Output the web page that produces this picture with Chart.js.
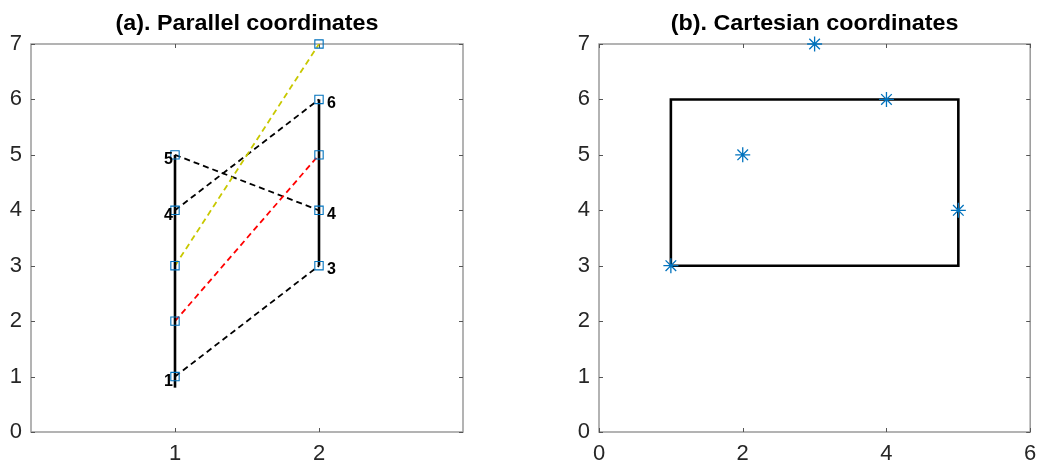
<!DOCTYPE html>
<html>
<head>
<meta charset="utf-8">
<script src="https://cdn.jsdelivr.net/npm/chart.js@4.4.1/dist/chart.umd.min.js"></script>
<style>
  html, body { margin: 0; padding: 0; background: #fff; }
  .panel { position: absolute; top: 0; width: 519px; height: 460px; }
  #panelA { left: 0; }
  #panelB { left: 520px; }
</style>
</head>
<body>
<div class="panel" id="panelA"><canvas id="parallelChart" width="519" height="460"></canvas></div>
<div class="panel" id="panelB"><canvas id="cartesianChart" width="519" height="460"></canvas></div>

<script>
// the five points, (pointX[i], pointY[i])
var pointX = [1, 2, 3, 4, 5];
var pointY = [3, 5, 7, 6, 4];

// rectangle: x from rectX[0] to rectX[1], y from rectY[0] to rectY[1]
var rectX = [1, 5];
var rectY = [3, 6];

// solid segments on the two parallel axes
var axis1Span = [0.8, 5];
var axis2Span = [3, 6];

// numbers written beside the parallel axes
var axis1Labels = [1, 4, 5];
var axis2Labels = [6, 4, 3];

// axes
var yRange = [0, 7];
var yTicks = [0, 1, 2, 3, 4, 5, 6, 7];
var parallelXRange = [0, 3];
var parallelXTicks = [1, 2];
var cartesianXRange = [0, 6];
var cartesianXTicks = [0, 2, 4, 6];

var titles = ['(a). Parallel coordinates', '(b). Cartesian coordinates'];

var lineColors = ['#000000', '#ff0000', '#c8c800', '#000000', '#000000'];
var markerBlue = '#0072bd';
var tickFont = { family: '"Liberation Sans", Arial, sans-serif', size: 22 };

// box, inward tick marks and title (matlab style)
function framePlugin(title) {
    return {
        id: 'frame',
        beforeDatasetsDraw: function(chart) {
            var ctx = chart.ctx;
            var a = chart.chartArea;
            var xs = chart.scales.x, ys = chart.scales.y;
            ctx.save();
            ctx.strokeStyle = '#9a9a9a';
            ctx.lineWidth = 1.5;
            ctx.strokeRect(a.left, a.top, a.right - a.left, a.bottom - a.top);
            ctx.strokeStyle = '#555555';
            ctx.lineWidth = 1;
            ctx.beginPath();
            xs.ticks.forEach(function(t) {
                var px = Math.round(xs.getPixelForValue(t.value)) + 0.5;
                ctx.moveTo(px, a.bottom); ctx.lineTo(px, a.bottom - 4);
                ctx.moveTo(px, a.top); ctx.lineTo(px, a.top + 4);
            });
            ys.ticks.forEach(function(t) {
                var py = Math.round(ys.getPixelForValue(t.value)) + 0.5;
                ctx.moveTo(a.left, py); ctx.lineTo(a.left + 4, py);
                ctx.moveTo(a.right, py); ctx.lineTo(a.right - 4, py);
            });
            ctx.stroke();
            ctx.restore();
        },
        afterDraw: function(chart) {
            var ctx = chart.ctx;
            var a = chart.chartArea;
            ctx.save();
            ctx.font = 'bold 22px "Liberation Sans", Arial, sans-serif';
            ctx.fillStyle = '#000000';
            ctx.textAlign = 'center';
            ctx.textBaseline = 'middle';
            ctx.translate((a.left + a.right) / 2, 24);
            ctx.scale(1.06, 1);
            ctx.fillText(title, 0, 0);
            ctx.restore();
        }
    };
}

function axes(xRange, xTicks, yWidth) {
    return {
        x: {
            type: 'linear',
            min: xRange[0],
            max: xRange[1],
            afterBuildTicks: function(scale) {
                scale.ticks = xTicks.map(function(v) { return { value: v }; });
            },
            afterFit: function(scale) {
                scale.height = 28;
                scale.paddingLeft = 0;
                scale.paddingRight = 0;
            },
            grid: { display: false, drawTicks: false },
            border: { display: false },
            ticks: { font: tickFont, color: '#262626', padding: 9, maxRotation: 0 }
        },
        y: {
            type: 'linear',
            min: yRange[0],
            max: yRange[1],
            afterBuildTicks: function(scale) {
                scale.ticks = yTicks.map(function(v) { return { value: v }; });
            },
            afterFit: function(scale) {
                scale.width = yWidth;
                scale.paddingTop = 0;
                scale.paddingBottom = 0;
            },
            grid: { display: false, drawTicks: false },
            border: { display: false },
            ticks: { font: tickFont, color: '#262626', padding: 9 }
        }
    };
}

var commonOptions = {
    responsive: false,
    animation: false,
    events: [],
    plugins: { legend: { display: false }, title: { display: false }, tooltip: { enabled: false } }
};

// ---- (a) parallel coordinates ----
var parallelSets = [];
pointX.forEach(function(v, i) {
    parallelSets.push({
        data: [{ x: 1, y: v }, { x: 2, y: pointY[i] }],
        showLine: true,
        borderColor: lineColors[i],
        borderWidth: 1.8,
        borderDash: [6, 4],
        pointRadius: 0,
        order: 3
    });
});
parallelSets.push({
    data: [{ x: 1, y: axis1Span[0] }, { x: 1, y: axis1Span[1] }],
    showLine: true, borderColor: '#000000', borderWidth: 2.6, pointRadius: 0, order: 2
});
parallelSets.push({
    data: [{ x: 2, y: axis2Span[0] }, { x: 2, y: axis2Span[1] }],
    showLine: true, borderColor: '#000000', borderWidth: 2.6, pointRadius: 0, order: 2
});
parallelSets.push({
    data: pointX.map(function(v) { return { x: 1, y: v }; })
        .concat(pointY.map(function(v) { return { x: 2, y: v }; })),
    showLine: false,
    pointStyle: 'rect',
    pointRadius: 5.9,
    pointBorderWidth: 1.1,
    pointBorderColor: markerBlue,
    pointBackgroundColor: 'rgba(0,0,0,0)',
    clip: false,
    order: 0
});

var axisLabelsPlugin = {
    id: 'axisLabels',
    afterDatasetsDraw: function(chart) {
        var ctx = chart.ctx;
        var xs = chart.scales.x, ys = chart.scales.y;
        ctx.save();
        ctx.font = 'bold 16px "Liberation Sans", Arial, sans-serif';
        ctx.fillStyle = '#000000';
        ctx.textBaseline = 'middle';
        ctx.textAlign = 'right';
        axis1Labels.forEach(function(v) {
            ctx.fillText(String(v), xs.getPixelForValue(1) - 2, ys.getPixelForValue(v) + 5);
        });
        ctx.textAlign = 'left';
        axis2Labels.forEach(function(v) {
            ctx.fillText(String(v), xs.getPixelForValue(2) + 8, ys.getPixelForValue(v) + 4);
        });
        ctx.restore();
    }
};

var optsA = Object.assign({}, commonOptions, {
    layout: { padding: { left: 0, right: 56, top: 44, bottom: 0 } },
    scales: axes(parallelXRange, parallelXTicks, 31)
});

new Chart(document.getElementById('parallelChart').getContext('2d'), {
    type: 'scatter',
    data: { datasets: parallelSets },
    options: optsA,
    plugins: [framePlugin(titles[0]), axisLabelsPlugin]
});

// ---- (b) cartesian coordinates ----
var rectPath = [
    { x: rectX[0], y: rectY[0] }, { x: rectX[1], y: rectY[0] },
    { x: rectX[1], y: rectY[1] }, { x: rectX[0], y: rectY[1] },
    { x: rectX[0], y: rectY[0] }
];

var cartesianSets = [
    {
        data: pointX.map(function(v, i) { return { x: v, y: pointY[i] }; }),
        showLine: false,
        pointStyle: 'star',
        pointRadius: 7.5,
        pointBorderWidth: 1.3,
        pointBorderColor: markerBlue,
        pointBackgroundColor: markerBlue,
        clip: false,
        order: 0
    },
    {
        data: rectPath,
        showLine: true,
        borderColor: '#000000',
        borderWidth: 2.6,
        borderJoinStyle: 'miter',
        pointRadius: 0,
        order: 1
    }
];

var optsB = Object.assign({}, commonOptions, {
    layout: { padding: { left: 0, right: 7, top: 44, bottom: 0 } },
    scales: axes(cartesianXRange, cartesianXTicks, 79)
});

new Chart(document.getElementById('cartesianChart').getContext('2d'), {
    type: 'scatter',
    data: { datasets: cartesianSets },
    options: optsB,
    plugins: [framePlugin(titles[1])]
});
</script>
</body>
</html>
